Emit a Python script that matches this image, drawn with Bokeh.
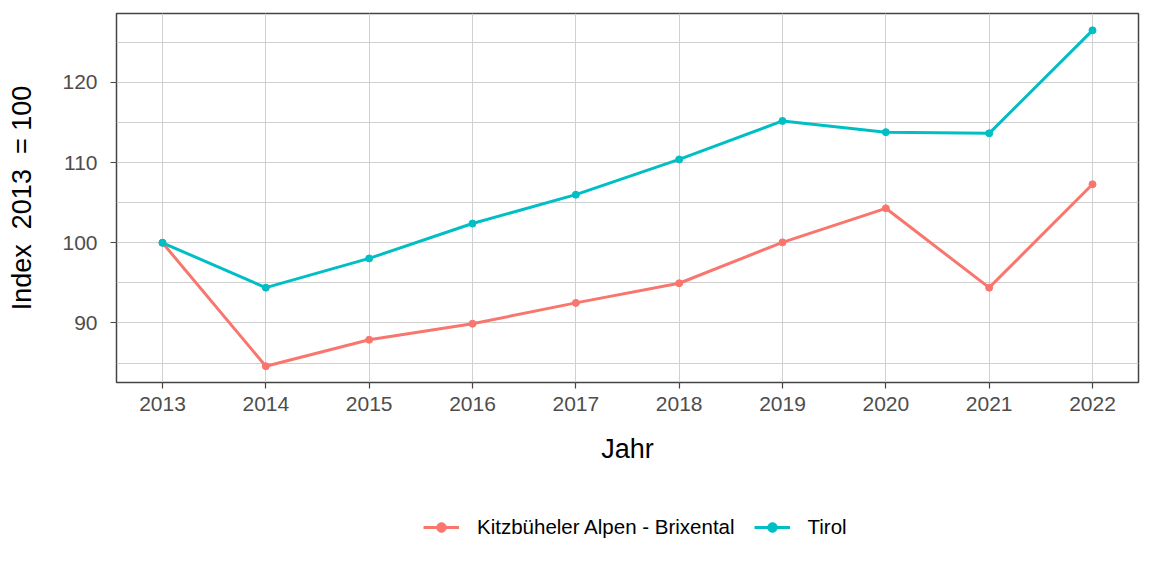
from bokeh.plotting import figure
from bokeh.models import Legend, LegendItem, FixedTicker, Range1d
from bokeh.layouts import column
from bokeh.embed import file_html
from bokeh.resources import INLINE

years = [2013, 2014, 2015, 2016, 2017, 2018, 2019, 2020, 2021, 2022]
kitz = [100.0, 84.6, 87.9, 89.9, 92.5, 94.95, 100.05, 104.3, 94.4, 107.3]
tirol = [100.0, 94.4, 98.05, 102.4, 106.0, 110.4, 115.2, 113.8, 113.65, 126.5]
series_names = ["Kitzbüheler Alpen - Brixental", "Tirol"]
y_ticks = [90, 100, 110, 120]
y_minor = [85, 95, 105, 115, 125]

FONT = "Liberation Sans"
RED = "#F8766D"
CYAN = "#00BFC4"

p = figure(width=1152, height=480, output_backend="svg", toolbar_location=None,
           x_range=Range1d(2012.555, 2022.445), y_range=Range1d(82.57, 128.6),
           min_border_left=116, min_border_right=14, min_border_top=13, min_border_bottom=98)
p.background_fill_color = "white"
p.border_fill_color = "white"
p.outline_line_color = "#444444"
p.outline_line_width = 1.5

p.xaxis.ticker = FixedTicker(ticks=years)
p.yaxis.ticker = FixedTicker(ticks=y_ticks, minor_ticks=y_minor)
p.xgrid.ticker = FixedTicker(ticks=years)
p.ygrid.ticker = FixedTicker(ticks=y_ticks, minor_ticks=y_minor)

for g in (p.xgrid, p.ygrid):
    g.grid_line_color = "#d0d0d0"
    g.grid_line_width = 1
p.ygrid.minor_grid_line_color = "#d0d0d0"
p.ygrid.minor_grid_line_width = 1

for ax in (p.xaxis, p.yaxis):
    ax.axis_line_color = None
    ax.major_tick_line_color = "#444444"
    ax.major_tick_line_width = 1.2
    ax.major_tick_out = 6
    ax.major_tick_in = 0
    ax.minor_tick_line_color = None
    ax.major_label_text_font = FONT
    ax.major_label_text_font_size = "21px"
    ax.major_label_text_color = "#4d4d4d"
    ax.axis_label_text_font = FONT
    ax.axis_label_text_font_size = "27px"
    ax.axis_label_text_font_style = "normal"
    ax.axis_label_text_color = "black"

p.xaxis.axis_label = "Jahr"
p.yaxis.axis_label = "Index\u00a0 2013\u00a0 = 100"
p.xaxis.major_label_standoff = 8
p.yaxis.major_label_standoff = 13
p.xaxis.axis_label_standoff = 20
p.yaxis.axis_label_standoff = 22

p.line(years, kitz, line_color=RED, line_width=3)
p.scatter(years, kitz, size=7, color=RED)
p.line(years, tirol, line_color=CYAN, line_width=3)
p.scatter(years, tirol, size=7, color=CYAN)

# legend strip below the plot (its renderers hold only off-range points)
lf = figure(width=1152, height=96, output_backend="svg", toolbar_location=None,
            x_range=Range1d(0, 1), y_range=Range1d(0, 1),
            x_axis_location=None, y_axis_location=None,
            min_border_left=0, min_border_right=0, min_border_top=0, min_border_bottom=0)
lf.grid.visible = False
lf.outline_line_color = None
lf.background_fill_color = "white"
lf.border_fill_color = "white"
off = [-5, -4]
l1 = lf.line(off, off, line_color=RED, line_width=3)
m1 = lf.scatter(off, off, size=6, color=RED)
l2 = lf.line(off, off, line_color=CYAN, line_width=3)
m2 = lf.scatter(off, off, size=6, color=CYAN)

legend = Legend(items=[LegendItem(label=series_names[0], renderers=[l1, m1]),
                       LegendItem(label=series_names[1], renderers=[l2, m2])],
                orientation="horizontal", location=(307, 37),
                label_text_font=FONT, label_text_font_size="20.5px", label_text_color="black",
                glyph_width=36, glyph_height=24, label_height=24, label_standoff=18, spacing=19,
                padding=0, margin=0, border_line_color=None, background_fill_color=None)
lf.add_layout(legend, "center")

layout = column(p, lf, spacing=0)
open("out.html", "w").write(file_html(layout, INLINE))
